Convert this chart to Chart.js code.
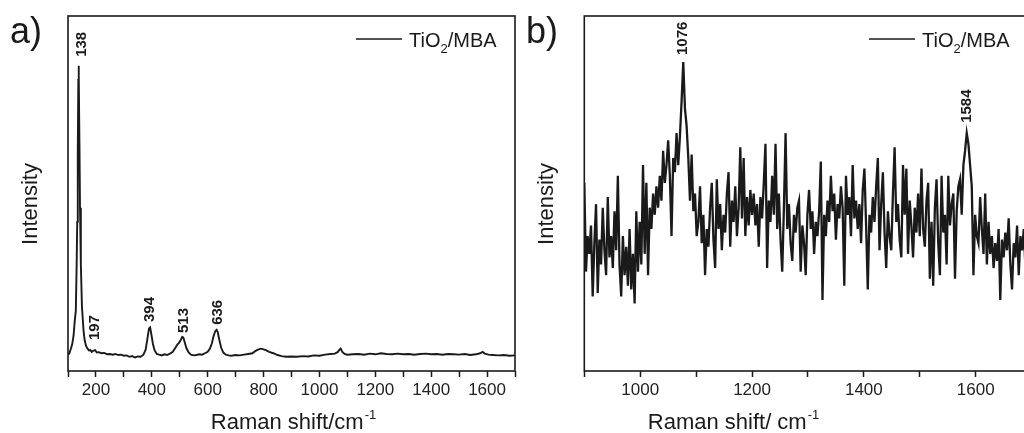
<!DOCTYPE html>
<html>
<head>
<meta charset="utf-8">
<script src="https://cdn.jsdelivr.net/npm/chart.js@4.4.0/dist/chart.umd.min.js"></script>
<style>
  html, body { margin: 0; padding: 0; background: #fff; overflow: hidden; }
  body { width: 1024px; height: 433px; position: relative; }
  canvas { position: absolute; top: 0; }
  #chartA { left: 0; }
  #chartB { left: 522px; }
</style>
</head>
<body>
<canvas id="chartA" width="522" height="433"></canvas>
<canvas id="chartB" width="518" height="433"></canvas>
<script>
// panel a) full Raman spectrum
const aShift = [100,105,110,115,120,124,128,131,133,135,137,138,139,141,143,146,150,156,160,165,170,
  175,180,185,190,197,203,210,220,230,240,250,260,270,280,290,300,310,320,330,340,
  350,360,370,378,384,390,394,398,404,410,418,426,435,445,455,465,475,485,492,498,
  504,509,513,518,524,532,540,550,560,570,580,590,600,608,615,621,627,632,636,641,
  648,656,665,675,685,700,715,730,745,760,770,780,790,800,810,820,835,850,865,880,
  900,920,940,960,980,1000,1020,1040,1055,1065,1072,1076,1082,1090,1100,1120,1140,1160,1180,1200,
  1220,1240,1260,1280,1300,1320,1340,1360,1380,1400,1420,1440,1460,1480,1500,1520,1540,1560,1575,1584,
  1592,1605,1620,1640,1660,1680,1700];
const aIntensity = [4.5,5.0,6.2,7.5,10,14,17,30,42,62,82,86,83,64,46,30,18,11,8.5,7.0,6.3,
  5.8,5.9,5.4,5.7,5.9,5.2,5.3,5.0,5.1,4.7,4.8,4.6,4.8,4.5,4.6,4.3,4.4,4.0,4.2,3.8,
  4.1,4.0,4.6,6.0,9.0,12.0,12.3,10.5,7.6,5.8,4.8,4.6,4.4,4.7,4.5,4.9,5.4,6.6,7.5,8.0,
  8.8,9.6,9.4,8.0,6.4,5.2,4.6,4.4,4.5,4.7,4.6,5.0,5.4,6.3,7.8,9.8,11.2,11.6,11.0,9.0,
  6.6,5.2,4.6,4.4,4.3,4.5,4.4,4.6,4.8,5.0,5.6,6.0,6.3,6.1,5.8,5.4,5.0,4.5,4.2,4.0,
  4.1,4.0,4.2,4.1,4.4,4.3,4.6,4.8,4.9,5.3,6.0,6.3,5.4,4.8,4.6,4.7,4.8,4.6,4.9,4.7,
  5.0,4.8,4.7,4.9,4.7,4.8,4.6,4.8,4.9,4.7,4.8,4.6,4.8,4.7,4.6,4.8,4.5,4.7,5.0,5.4,
  4.9,4.6,4.5,4.4,4.5,4.3,4.4];
const aPeaks = [138, 197, 394, 513, 636];
const aPeakLabelY = [88.5, 8.7, 13.8, 10.7, 13.0];

// panel b) zoom 900-1700 cm-1, sampled every 3 cm-1 from 900
const bStart = 900, bStep = 3;
const bIntensity = [
  53,28,38,33,41,21,36,47,22,37,30,46,34,27,49,32,38,29,45,34,
  55,30,21,38,27,35,24,40,23,33,19,45,28,42,30,58,33,53,27,46,
  40,50,44,52,46,55,48,62,53,58,65,55,38,60,56,67,58,66,76,87,
  74,69,60,48,61,45,50,38,42,52,36,44,27,40,35,46,53,37,29,54,
  40,47,34,44,39,50,56,35,48,42,52,38,46,63,43,60,38,49,41,51,
  44,50,41,47,35,49,43,53,64,29,48,42,55,44,64,40,50,37,28,46,
  67,40,47,36,31,44,39,46,48,28,41,36,27,44,51,40,45,33,42,38,
  45,59,20,44,38,48,42,55,45,50,37,47,43,52,46,24,55,44,49,38,
  58,43,48,40,47,36,51,57,41,23,44,39,49,42,52,60,34,47,56,39,
  29,45,38,34,50,63,42,47,37,32,58,44,57,33,48,41,32,46,39,50,
  38,57,40,35,48,53,26,42,24,46,54,36,27,55,39,44,30,55,41,47,
  50,26,45,52,54,44,58,62,67,64,58,52,27,44,38,36,49,40,33,50,
  30,42,33,38,29,36,31,40,20,37,32,39,34,43,30,23,36,32,41,27,
  38,34,40,29,36,31,37];
const bPeaks = [1076, 1584];
const bPeakLabelY = [89, 69.9];

const INK = '#1a1a1a';
const FAMILY = '"Liberation Sans", Arial, Helvetica, sans-serif';

const decor = {
  id: 'decor',
  afterDraw(chart, args, o) {
    const { ctx, chartArea: area, scales } = chart;
    ctx.save();
    ctx.fillStyle = INK;
    ctx.strokeStyle = INK;

    // box around the plot
    ctx.lineWidth = 1.6;
    ctx.strokeRect(area.left, area.top, area.right - area.left, area.bottom - area.top);

    // panel letter
    ctx.textAlign = 'left';
    ctx.textBaseline = 'alphabetic';
    ctx.font = '36px ' + FAMILY;
    ctx.fillText(o.letter, o.letterX, 43);

    // y title
    ctx.save();
    ctx.font = '22px ' + FAMILY;
    ctx.translate(area.left - 31, 204);
    ctx.rotate(-Math.PI / 2);
    ctx.textAlign = 'center';
    ctx.fillText('Intensity', 0, 0);
    ctx.restore();

    // x title with superscript -1
    ctx.font = '22px ' + FAMILY;
    const wMain = ctx.measureText(o.xTitle).width;
    ctx.font = '13px ' + FAMILY;
    const wSup = ctx.measureText('-1').width;
    const tx = o.xTitleCenter - (wMain + wSup) / 2;
    ctx.font = '22px ' + FAMILY;
    ctx.fillText(o.xTitle, tx, 429);
    ctx.font = '13px ' + FAMILY;
    ctx.fillText('-1', tx + wMain + 1, 419);

    // legend
    ctx.lineWidth = 1.5;
    ctx.beginPath();
    ctx.moveTo(o.legendX, 39);
    ctx.lineTo(o.legendX + 46, 39);
    ctx.stroke();
    let lx = o.legendX + 53;
    ctx.font = '20px ' + FAMILY;
    ctx.fillText('TiO', lx, 47);
    lx += ctx.measureText('TiO').width;
    ctx.font = '13px ' + FAMILY;
    ctx.fillText('2', lx, 53);
    lx += ctx.measureText('2').width;
    ctx.font = '20px ' + FAMILY;
    ctx.fillText('/MBA', lx, 47);

    // peak labels
    ctx.font = 'bold 15px ' + FAMILY;
    o.peaks.forEach((p, i) => {
      const px = scales.x.getPixelForValue(p) + (o.labelShift ? o.labelShift[i] : 0);
      const py = scales.y.getPixelForValue(o.peakLabelY[i]);
      ctx.save();
      ctx.translate(px, py);
      ctx.rotate(-Math.PI / 2);
      ctx.textAlign = 'left';
      ctx.textBaseline = 'middle';
      ctx.fillText(String(p), 0, 0);
      ctx.restore();
    });
    ctx.restore();
  }
};

function makeChart(id, points, xMin, xMax, lineWidth, padding, decorOpts) {
  return new Chart(document.getElementById(id), {
    type: 'line',
    data: {
      datasets: [{
        data: points,
        borderColor: INK,
        borderWidth: lineWidth,
        pointRadius: 0,
        tension: 0
      }]
    },
    options: {
      responsive: false,
      animation: false,
      layout: { padding: padding },
      scales: {
        x: {
          type: 'linear',
          min: xMin,
          max: xMax,
          border: { display: false },
          grid: {
            drawOnChartArea: false,
            drawTicks: true,
            tickLength: 6,
            tickWidth: 1.5,
            tickColor: INK
          },
          ticks: {
            stepSize: 100,
            autoSkip: false,
            maxRotation: 0,
            padding: 3,
            color: '#222',
            font: { size: 17, family: FAMILY },
            callback: v => (v % 200 === 0 ? v : '')
          },
          afterFit: s => { s.height = 62; }
        },
        y: { display: false, min: 0, max: 100 }
      },
      plugins: {
        legend: { display: false },
        tooltip: { enabled: false },
        decor: decorOpts
      }
    },
    plugins: [decor]
  });
}

makeChart('chartA',
  aShift.map((x, i) => ({ x: x, y: aIntensity[i] })),
  100, 1700, 1.9,
  { left: 68, right: 7, top: 16, bottom: 0 },
  { letter: 'a)', letterX: 10, xTitle: 'Raman shift/cm', xTitleCenter: 293,
    legendX: 356, peaks: aPeaks, peakLabelY: aPeakLabelY, labelShift: [3, 0, 0, 0, 0] });

makeChart('chartB',
  bIntensity.map((v, i) => ({ x: bStart + i * bStep, y: v })),
  900, 1700, 2.3,
  { left: 62.3, right: 8.4, top: 16, bottom: 0 },
  { letter: 'b)', letterX: 4, xTitle: 'Raman shift/ cm', xTitleCenter: 211,
    legendX: 347, peaks: bPeaks, peakLabelY: bPeakLabelY });
</script>
</body>
</html>
